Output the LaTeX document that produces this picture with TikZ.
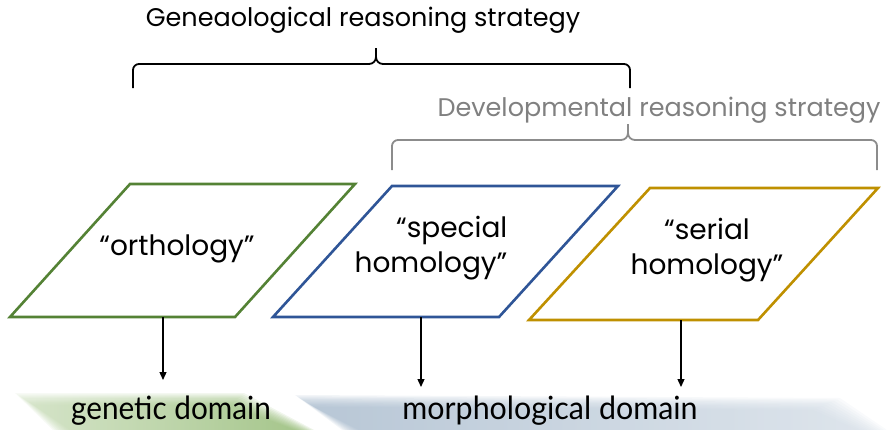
\documentclass[tikz,border=0pt]{standalone}
\usepackage{fontspec}
\setmainfont{Poppins}
\newfontfamily\domfont{Lato}
\usetikzlibrary{arrows.meta,calc}
\definecolor{cgreen}{HTML}{548235}
\definecolor{cblue}{HTML}{2F5597}
\definecolor{cgold}{HTML}{BF9000}
\definecolor{cgray}{HTML}{8C8C8C}
\definecolor{bggreen}{RGB}{135,178,100}
\definecolor{bgblue}{RGB}{160,180,200}
\tikzset{
  para/.style={line width=2.6pt, line join=miter, fill=white},
  lbl/.style={align=center, font=\fontsize{28}{35}\selectfont, inner sep=0pt},
  title/.style={font=\fontsize{25.5}{30}\selectfont, inner sep=0pt},
  dom/.style={font=\domfont\fontsize{32}{34}\selectfont, inner sep=0pt},
  arr/.style={line width=1.3pt, -{Triangle[length=8pt,width=7pt]}},
  bracelin/.style={line width=1.8pt}
}
\begin{document}
\begin{tikzpicture}[x=1pt,y=-1pt]
\useasboundingbox (0,0) rectangle (887,429);
% soft domain backgrounds
\foreach \k in {0,...,9}{
  \shade[left color=bggreen!45, right color=bggreen, opacity=0.13]
    (15+2*\k,393+1.3*\k) -- (244-1.5*\k,393+1.3*\k) -- (318-2*\k,432) -- (55+2*\k,432) -- cycle;
  \shade[left color=bgblue, right color=bgblue!45, opacity=0.13]
    (295+2*\k,395+1.3*\k) -- (840-3*\k,398+1.3*\k) -- (890-3*\k,432) -- (345+2*\k,432) -- cycle;
}
% parallelograms
\draw[para, draw=cgreen] (130,184) -- (355,184) -- (235,317) -- (10,317) -- cycle;
\draw[para, draw=cblue] (392,186) -- (618,186) -- (499,317) -- (273,317) -- cycle;
\draw[para, draw=cgold] (650,188) -- (878,188) -- (758,320) -- (529,320) -- cycle;
% labels inside
\node[lbl] (orth) at (177,249) {“orthology”};
\node[lbl, align=right] (spec) at (431,248) {“special\\homology”};
\node[lbl] (ser) at (707,250) {“serial\\homology”};
% braces
\draw[bracelin, black] (133,88) -- (133,70) to[out=90,in=180] (139,64) -- (369,64)
  to[out=0,in=-90] (376,57) -- (376,48);
\draw[bracelin, black] (630,88) -- (630,70) to[out=90,in=0] (624,64) -- (383,64)
  to[out=180,in=-90] (376,57);
\draw[bracelin, cgray] (392,170) -- (392,146) to[out=90,in=180] (398,140) -- (621,140)
  to[out=0,in=-90] (628,133) -- (628,124);
\draw[bracelin, cgray] (877,170) -- (877,146) to[out=90,in=0] (871,140) -- (635,140)
  to[out=180,in=-90] (628,133);
% titles
\node[title] (gen) at (363,20) {Geneaological reasoning strategy};
\node[title, text=gray] (dev) at (659,110) {Developmental reasoning strategy};
% domains
\node[dom] (gdom) at (171,411) {\scalebox{0.93}[1]{genetic domain}};
\node[dom] (mdom) at (550,411) {\scalebox{0.95}[1]{morphological domain}};
% arrows
\coordinate (a1s) at (163,317);
\coordinate (a1e) at (163,380);
\coordinate (a2s) at (421,317);
\coordinate (a2e) at (421,387);
\coordinate (a3s) at (681,320);
\coordinate (a3e) at (681,387);
\draw[arr] (a1s) -- (a1e);
\draw[arr] (a2s) -- (a2e);
\draw[arr] (a3s) -- (a3e);
\end{tikzpicture}
\end{document}
